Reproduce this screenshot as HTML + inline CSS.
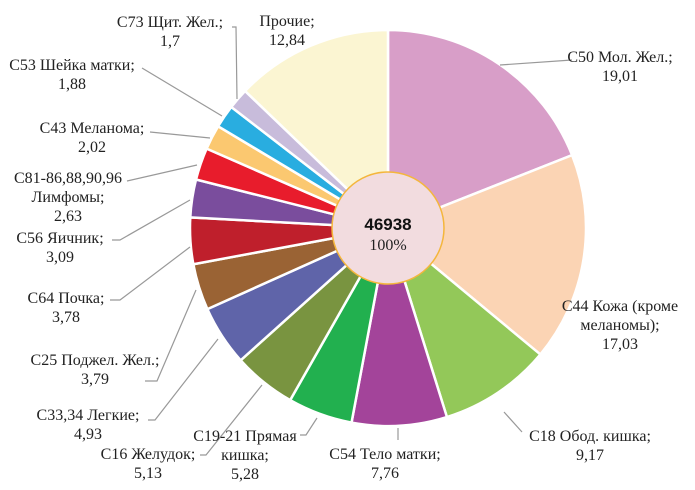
<!DOCTYPE html>
<html><head><meta charset="utf-8"><style>
html,body{margin:0;padding:0;background:#fff;width:695px;height:490px;overflow:hidden}
svg text{font-family:"Liberation Serif",serif;font-size:16px;fill:#222}
</style></head><body>
<svg id="chart" width="695" height="490" viewBox="0 0 695 490" xmlns="http://www.w3.org/2000/svg"></svg>
<script>
const categories=["C50 Мол. Жел.","C44 Кожа (кроме меланомы)","C18 Обод. кишка","C54 Тело матки","C19-21 Прямая кишка","C16 Желудок","C33,34 Легкие","C25 Поджел. Жел.","C64 Почка","C56 Яичник","C81-86,88,90,96 Лимфомы","C43 Меланома","C53 Шейка матки","C73 Щит. Жел.","Прочие"];
const values=[19.01,17.03,9.17,7.76,5.28,5.13,4.93,3.79,3.78,3.09,2.63,2.02,1.88,1.7,12.84];
const valueLabels=["19,01","17,03","9,17","7,76","5,28","5,13","4,93","3,79","3,78","3,09","2,63","2,02","1,88","1,7","12,84"];
const labelLines=[["C50 Мол. Жел.;"],["C44 Кожа (кроме","меланомы);"],["C18 Обод. кишка;"],["C54 Тело матки;"],["C19-21 Прямая","кишка;"],["C16 Желудок;"],["C33,34 Легкие;"],["C25 Поджел. Жел.;"],["C64 Почка;"],["C56 Яичник;"],["C81-86,88,90,96","Лимфомы;"],["C43 Меланома;"],["C53 Шейка матки;"],["C73 Щит. Жел.;"],["Прочие;"]];
const totalCount="46938";
const colors=["#d89ec8","#fbd4b4","#93c859","#a3449a","#22b04f","#799440","#5f64a9","#9a6334","#bf1f2c","#7a4d9d","#e81c2c","#fbc870","#29ade0","#c8bcdb","#fbf5d2"];
// label layout: [centerX, firstBaseline], leader polyline
const labelPos=[[620,62],[620,311],[590,441],[385,459],[245,441],[148,459],[88,420],[95,365],[66,303],[60,243],[68,183],[92,133],[72,70],[170,27],[287,26]];
const leaders=[[[572,60],[500,65]],null,[[522,432],[504,412]],[[398,440],[398,428]],[[300,435],[306,435],[317,418]],[[200,455],[206,455],[262,385]],[[148,420],[155,420],[218,339]],[[145,381],[157,381],[196,290]],[[110,300],[120,300],[190,247]],[[112,240],[120,240],[190,200]],[[127,181],[197,165]],[[150,132],[210,138]],[[142,68],[222,116]],[[232,27],[236,27],[237,99]]];
const svg=document.getElementById('chart');
const NS='http://www.w3.org/2000/svg';
const cx=388,cy=228,R=198,r0=56;
const total=values.reduce((a,b)=>a+b,0);
function pt(a,rad){return [cx+rad*Math.sin(a),cy-rad*Math.cos(a)];}
let a0=0;
values.forEach((v,i)=>{
  const a1=a0+v/total*2*Math.PI;
  const p0=pt(a0,R),p1=pt(a1,R);
  const large=(a1-a0)>Math.PI?1:0;
  const p=document.createElementNS(NS,'path');
  p.setAttribute('d',`M${cx},${cy} L${p0[0]},${p0[1]} A${R},${R} 0 ${large} 1 ${p1[0]},${p1[1]} Z`);
  p.setAttribute('fill',colors[i]);p.setAttribute('stroke','#fff');p.setAttribute('stroke-width','2.5');
  
  
  svg.appendChild(p);
  a0=a1;
});
leaders.forEach((l,i)=>{
  if(!l) return;
  const pl=document.createElementNS(NS,'polyline');
  pl.setAttribute('points',l.map(q=>q.join(',')).join(' '));
  pl.setAttribute('fill','none');pl.setAttribute('stroke','#999');pl.setAttribute('stroke-width','1.2');
  
  
  svg.appendChild(pl);
});
labelLines.forEach((lines,i)=>{
  const t=document.createElementNS(NS,'text');
  t.setAttribute('text-anchor','middle');
  
  
  const all=lines.concat([valueLabels[i]]);
  all.forEach((s,j)=>{
    const ts=document.createElementNS(NS,'tspan');
    ts.setAttribute('x',labelPos[i][0]);ts.setAttribute('y',labelPos[i][1]+j*19);
    ts.textContent=s;t.appendChild(ts);
  });
  svg.appendChild(t);
});
const c=document.createElementNS(NS,'circle');
c.setAttribute('cx',cx);c.setAttribute('cy',cy);c.setAttribute('r',r0);
c.setAttribute('fill','#f2dcdf');c.setAttribute('stroke','#f4b63c');c.setAttribute('stroke-width','1.5');


svg.appendChild(c);
const t1=document.createElementNS(NS,'text');
t1.setAttribute('x',cx);t1.setAttribute('y',cy+2);t1.setAttribute('text-anchor','middle');
t1.setAttribute('style','font-family:"Liberation Sans",sans-serif;font-weight:bold;font-size:17px;fill:#111');
t1.textContent=totalCount;


svg.appendChild(t1);
const t2=document.createElementNS(NS,'text');
t2.setAttribute('x',cx);t2.setAttribute('y',cy+22);t2.setAttribute('text-anchor','middle');
t2.textContent='100%';


svg.appendChild(t2);
</script>
</body></html>
